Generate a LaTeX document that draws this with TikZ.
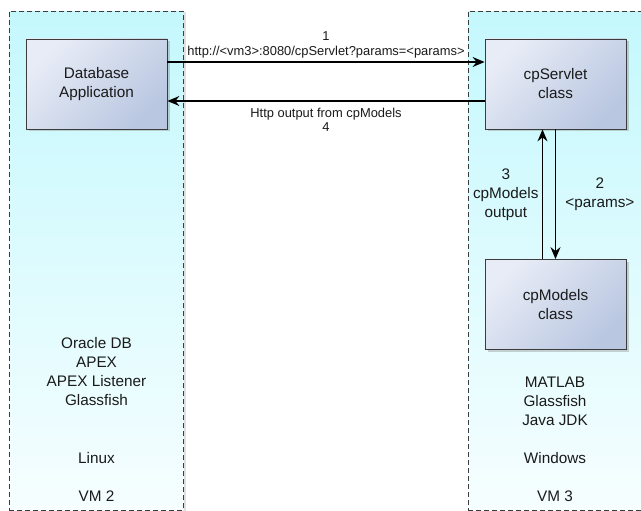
\documentclass[tikz,border=0pt]{standalone}
\usepackage{fontspec}
\setmainfont{Liberation Sans}
\usetikzlibrary{arrows.meta,shadows}
\definecolor{vmtop}{HTML}{C4F8FD}
\definecolor{vmbot}{HTML}{F6FEFF}
\definecolor{boxA}{HTML}{E8ECF6}
\definecolor{boxB}{HTML}{B9C7E1}
\definecolor{edgec}{HTML}{3C3C3C}
\definecolor{txt}{HTML}{1A1A1A}
\begin{document}
\begin{tikzpicture}[x=1pt,y=-1pt,
  vm/.style={draw=edgec, dash pattern=on 5pt off 3pt, line width=0.9pt,
    top color=vmtop, bottom color=vmbot, anchor=north west,
    drop shadow={shadow xshift=2.5pt, shadow yshift=-1pt, opacity=0.25}},
  comp/.style={draw=edgec, line width=0.8pt, minimum width=141pt, minimum height=90pt,
    align=center, text=txt, font=\fontsize{15.3}{19}\selectfont,
    top color=boxA, bottom color=boxB, shading angle=45,
    drop shadow={shadow xshift=2.5pt, shadow yshift=-2.5pt, opacity=0.35}},
  arr/.style={-{Stealth[length=12pt,width=10pt,inset=4pt]}, line width=1.3pt, draw=black},
  lbl/.style={font=\fontsize{12.9}{14.5}\selectfont, align=center, text=txt},
  info/.style={font=\fontsize{15.3}{19}\selectfont, align=center, text=txt}]
\useasboundingbox (0,0) rectangle (641,511);
\clip (0,0) rectangle (641,511);
\fill[white] (0,0) rectangle (641,511);
% VM panels
\node[vm, minimum width=174pt, minimum height=499pt] (vm2) at (9,11) {};
\node[vm, minimum width=190pt, minimum height=499pt] (vm3) at (468,11) {};
% components
\node[comp] (db) at (96.5,84) {Database\\Application};
\node[comp] (sv) at (555.5,84) {cpServlet\\class};
\node[comp] (cm) at (555.5,304.5) {cpModels\\class};
% connectors
\draw[arr] ([yshift=22pt]db.east) -- node[lbl, above] {1\\http://<vm3>:8080/cpServlet?params=<params>} ([yshift=22pt]sv.west);
\draw[arr] ([yshift=-17pt]sv.west) -- node[lbl, below=3pt] {Http output from cpModels\\4} ([yshift=-17pt]db.east);
\draw[arr] ([xshift=-13pt]cm.north) -- node[info, left] {3\\cpModels\\output} ([xshift=-13pt]sv.south);
\draw[arr] (sv.south) -- node[info, right=6pt] {2\\<params>} (cm.north);
% platform texts
\node[info] (sw2) at (96.5,372) {Oracle DB\\APEX\\APEX Listener\\Glassfish};
\node[info] (os2) at (96.5,458) {Linux};
\node[info] (id2) at (96.5,496) {VM 2};
\node[info] (sw3) at (555,401) {MATLAB\\Glassfish\\Java JDK};
\node[info] (os3) at (555,458) {Windows};
\node[info] (id3) at (555,496) {VM 3};
\end{tikzpicture}
\end{document}
